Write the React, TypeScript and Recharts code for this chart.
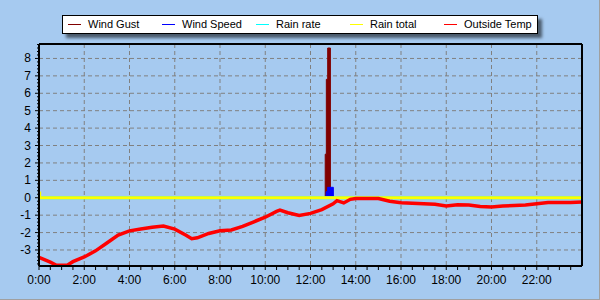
import {
  Area,
  CartesianGrid,
  ComposedChart,
  Line,
  ReferenceLine,
  XAxis,
  YAxis,
} from 'recharts';

// weather log for one day, x = hours since midnight
const seriesNames = ['Wind Gust', 'Wind Speed', 'Rain rate', 'Rain total', 'Outside Temp'];
const seriesColors = ['#800000', '#0000ff', '#00ffff', '#ffff00', '#ff0000'];

const hourLabels = ['0:00', '2:00', '4:00', '6:00', '8:00', '10:00', '12:00', '14:00', '16:00', '18:00', '20:00', '22:00'];
const hourTicks = [0, 2, 4, 6, 8, 10, 12, 14, 16, 18, 20, 22];
const valueTicks = [-3, -2, -1, 0, 1, 2, 3, 4, 5, 6, 7, 8];
const yMin = -3.92;
const yMax = 8.83;

const tempTimes = [
  0, 0.5, 0.75, 1, 1.25, 1.5, 2, 2.5, 3, 3.5, 4, 4.5, 5, 5.5, 6, 6.5, 6.75, 7, 7.5, 8, 8.5, 9, 9.5, 10,
  10.5, 10.65, 11, 11.5, 12, 12.5, 13, 13.17, 13.47, 13.76, 14, 14.5, 15, 15.5, 16, 16.5, 17, 17.5, 18,
  18.5, 19, 19.5, 20, 20.5, 21, 21.5, 22, 22.5, 23, 23.5, 24,
];
const tempValues = [
  -3.43, -3.7, -3.86, -3.87, -3.87, -3.67, -3.4, -3.05, -2.6, -2.15, -1.9, -1.8, -1.7, -1.63, -1.8, -2.15,
  -2.35, -2.3, -2.05, -1.9, -1.85, -1.65, -1.38, -1.12, -0.78, -0.71, -0.86, -1.02, -0.9, -0.68, -0.35,
  -0.17, -0.3, -0.09, -0.04, -0.04, -0.05, -0.2, -0.29, -0.31, -0.34, -0.38, -0.47, -0.4, -0.42, -0.5,
  -0.53, -0.48, -0.44, -0.41, -0.34, -0.27, -0.27, -0.28, -0.25,
];

// step series: each value holds until the next time
const gustTimes = [12.65, 12.7, 12.76, 12.88];
const gustValues = [2.5, 6.8, 8.6, 0];
const speedTimes = [12.69, 12.76, 13.01];
const speedValues = [0.35, 0.6, 0];
const rainTotalTimes = [0, 0.03];
const rainTotalValues = [0.27, 0];

type Row = { t: number; temp?: number; gust: number; speed: number; rate: number; total: number };

const held = (times: number[], values: number[], t: number, start: number) => {
  let v = start;
  times.forEach((tt, i) => {
    if (tt <= t) v = values[i];
  });
  return v;
};

function buildRows(): Row[] {
  const all = [...new Set([...tempTimes, ...gustTimes, ...speedTimes, ...rainTotalTimes])].sort((a, b) => a - b);
  return all.map((t) => {
    const ti = tempTimes.indexOf(t);
    return {
      t,
      temp: ti >= 0 ? tempValues[ti] : undefined,
      gust: held(gustTimes, gustValues, t, 0),
      speed: held(speedTimes, speedValues, t, 0),
      rate: 0,
      total: held(rainTotalTimes, rainTotalValues, t, 0),
    };
  });
}

const rows = buildRows();

const xTicks: number[] = [];
for (let i = 0; i < 48; i++) xTicks.push(i / 2);
const yTicks: number[] = [];
for (let i = -19; i <= 44; i++) yTicks.push(Math.round(i * 2) / 10);

const font = '"Liberation Sans", Arial, sans-serif';

const XTick = ({ x, y, payload }: any) => {
  const idx = hourTicks.indexOf(payload.value);
  return (
    <g>
      <line x1={x} x2={x} y1={y} y2={y + 4} stroke="#000" />
      {idx >= 0 && (
        <text x={x} y={y + 18} textAnchor="middle" fontSize={12} fontFamily={font} fill="#000">
          {hourLabels[idx]}
        </text>
      )}
    </g>
  );
};

const YTick = ({ x, y, payload }: any) => {
  const v = payload.value;
  const major = valueTicks.includes(v);
  return (
    <g>
      <line x1={x - (major ? 4 : 2)} x2={x} y1={y} y2={y} stroke="#000" />
      {major && (
        <text x={x - 8} y={y + 4} textAnchor="end" fontSize={12} fontFamily={font} fill="#000">
          {v}
        </text>
      )}
    </g>
  );
};

export default function App() {
  return (
    <div
      style={{
        position: 'absolute',
        left: 0,
        top: 0,
        width: 600,
        height: 300,
        boxSizing: 'border-box',
        background: '#a6caf0',
        borderRight: '1px solid #a0a0a0',
        borderBottom: '1px solid #a0a0a0',
      }}
    >
      <ComposedChart
        width={600}
        height={300}
        data={rows}
        margin={{ top: 44, right: 18, bottom: 0, left: 0 }}
        style={{ position: 'absolute', left: 0, top: 0 }}
      >
        <CartesianGrid
          stroke="#808080"
          strokeDasharray="4 3"
          horizontalValues={valueTicks}
          verticalValues={hourTicks}
        />
        <XAxis
          dataKey="t"
          type="number"
          domain={[0, 24]}
          ticks={xTicks}
          interval={0}
          height={34}
          tickSize={0}
          tickMargin={0}
          tick={<XTick />}
          axisLine={{ stroke: '#000', strokeWidth: 2 }}
          allowDataOverflow
        />
        <YAxis
          type="number"
          domain={[yMin, yMax]}
          ticks={yTicks}
          interval={0}
          width={39}
          tickSize={0}
          tickMargin={0}
          tick={<YTick />}
          axisLine={{ stroke: '#000', strokeWidth: 2 }}
          allowDataOverflow
        />
        <Area
          dataKey="gust"
          type="stepAfter"
          stroke="#800000"
          strokeWidth={1}
          fill="#800000"
          fillOpacity={1}
          baseValue={0}
          dot={false}
          activeDot={false}
          isAnimationActive={false}
        />
        <Area
          dataKey="speed"
          type="stepAfter"
          stroke="#0000ff"
          strokeWidth={1}
          fill="#0000ff"
          fillOpacity={1}
          baseValue={0}
          dot={false}
          activeDot={false}
          isAnimationActive={false}
        />
        <Line dataKey="rate" stroke="#00ffff" strokeWidth={3} dot={false} isAnimationActive={false} />
        <Line
          dataKey="total"
          stroke="#ffff00"
          strokeWidth={3}
          dot={false}
          type="stepAfter"
          isAnimationActive={false}
        />
        <Line
          dataKey="temp"
          stroke="#ff0000"
          strokeWidth={3.5}
          dot={false}
          connectNulls
          isAnimationActive={false}
        />
        <ReferenceLine y={yMax} stroke="#000" strokeWidth={2} />
        <ReferenceLine x={24} stroke="#000" strokeWidth={2} />
      </ComposedChart>
      <div
        style={{
          position: 'absolute',
          left: 62,
          top: 15,
          width: 476,
          height: 19,
          boxSizing: 'border-box',
          border: '1px solid #000',
          background: '#fff',
          boxShadow: '4px 4px 3px rgba(0,0,0,0.55)',
          fontFamily: font,
          fontSize: 11,
        }}
      >
        {seriesNames.map((name, i) => (
          <div key={name} style={{ position: 'absolute', left: 5 + i * 94, top: 0, height: 17, whiteSpace: 'nowrap' }}>
            <span
              style={{
                position: 'absolute',
                left: 0,
                top: 8,
                width: 13,
                height: 1,
                background: seriesColors[i],
              }}
            />
            <span style={{ position: 'absolute', left: 20, top: 2, lineHeight: '13px' }}>{name}</span>
          </div>
        ))}
      </div>
    </div>
  );
}
